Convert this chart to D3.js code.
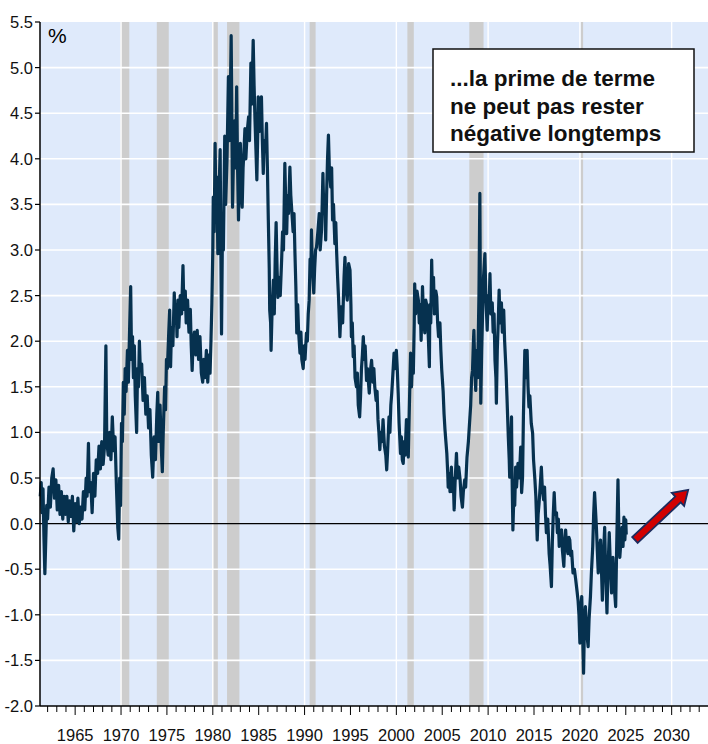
<!DOCTYPE html>
<html>
<head>
<meta charset="utf-8">
<script src="https://cdn.jsdelivr.net/npm/d3@7/dist/d3.min.js"></script>
<style>
  body { margin: 0; background: #fff; }
  svg text { font-family: "Liberation Sans Narrow", "Arial Narrow", "Liberation Sans", sans-serif; }
</style>
</head>
<body>
<svg width="708" height="744"></svg>
<script>
// prime de terme, %
const termPremium = [
  [1961.2,0.30],[1961.3,0.45],[1961.4,0.12],[1961.5,0.38],[1961.6,-0.15],[1961.7,-0.55],[1961.78,-0.25],[1961.9,0.20],
  [1962.0,0.05],[1962.15,0.40],[1962.3,0.18],[1962.45,0.50],[1962.6,0.60],[1962.75,0.28],[1962.9,0.48],
  [1963.05,0.15],[1963.2,0.42],[1963.35,0.10],[1963.5,0.35],[1963.65,0.05],[1963.8,0.30],[1963.95,0.10],
  [1964.1,0.30],[1964.25,0.02],[1964.4,0.25],[1964.55,0.08],[1964.7,0.30],[1964.85,-0.08],
  [1965.0,0.22],[1965.15,0.02],[1965.3,0.28],[1965.45,0.00],[1965.6,0.18],[1965.75,0.05],[1965.9,0.35],
  [1966.05,0.15],[1966.2,0.50],[1966.3,0.30],[1966.45,0.88],[1966.55,0.35],[1966.7,0.45],[1966.85,0.12],
  [1967.0,0.55],[1967.15,0.30],[1967.3,0.70],[1967.45,0.55],[1967.6,0.85],[1967.75,0.60],[1967.9,0.90],
  [1968.05,0.65],[1968.2,0.85],[1968.35,1.95],[1968.45,0.90],[1968.6,0.75],[1968.75,1.00],[1968.9,0.70],
  [1969.05,1.17],[1969.2,0.80],[1969.35,0.95],[1969.5,0.40],[1969.65,-0.05],[1969.75,-0.17],[1969.85,0.50],[1969.95,0.20],
  [1970.05,1.10],[1970.15,0.90],[1970.25,1.55],[1970.35,1.20],[1970.45,1.70],[1970.55,1.45],[1970.7,1.90],[1970.8,1.55],[1970.95,2.20],
  [1971.05,2.60],[1971.15,1.80],[1971.25,2.05],[1971.35,1.60],[1971.45,1.95],[1971.55,1.40],[1971.7,1.00],[1971.8,1.70],[1971.9,1.50],
  [1972.0,2.00],[1972.1,1.70],[1972.25,1.75],[1972.4,1.35],[1972.55,1.60],[1972.7,1.20],[1972.85,1.40],
  [1973.0,1.05],[1973.15,1.25],[1973.3,0.75],[1973.45,0.51],[1973.6,0.95],[1973.75,0.70],[1973.9,1.20],
  [1974.0,1.44],[1974.1,0.90],[1974.25,1.30],[1974.4,0.80],[1974.5,0.57],[1974.6,1.00],[1974.75,1.50],[1974.85,1.25],[1974.95,1.80],
  [1975.05,1.70],[1975.2,2.10],[1975.3,2.34],[1975.4,1.72],[1975.5,2.15],[1975.65,1.95],[1975.8,2.53],[1975.9,2.20],
  [1976.0,2.40],[1976.1,2.05],[1976.2,2.45],[1976.3,2.15],[1976.45,2.50],[1976.6,2.30],[1976.75,2.83],[1976.85,2.35],
  [1977.0,2.55],[1977.1,2.20],[1977.25,2.45],[1977.4,2.10],[1977.55,2.35],[1977.65,1.95],[1977.75,1.68],[1977.85,2.00],
  [1978.0,2.10],[1978.15,1.85],[1978.3,2.12],[1978.45,1.80],[1978.6,2.05],[1978.75,1.65],[1978.9,1.55],
  [1979.0,1.80],[1979.15,1.60],[1979.3,1.90],[1979.45,1.55],[1979.6,1.85],[1979.7,1.65],[1979.8,2.00],[1979.9,2.42],
  [1980.0,3.00],[1980.05,3.58],[1980.15,3.20],[1980.25,4.17],[1980.35,3.40],[1980.45,3.80],[1980.55,2.96],[1980.65,3.50],
  [1980.8,4.10],[1980.88,3.00],[1980.95,2.08],[1981.05,3.20],[1981.15,3.00],[1981.3,4.25],[1981.4,3.50],[1981.55,4.00],
  [1981.7,4.90],[1981.8,4.20],[1981.9,4.60],[1982.0,5.35],[1982.08,4.40],[1982.15,3.47],[1982.25,4.00],[1982.4,4.42],
  [1982.5,3.90],[1982.6,4.79],[1982.7,3.90],[1982.8,3.33],[1982.9,3.90],[1983.0,4.17],[1983.1,3.70],[1983.2,3.47],
  [1983.3,3.90],[1983.4,4.10],[1983.5,4.33],[1983.6,4.00],[1983.75,4.30],[1983.9,4.46],[1984.0,4.20],[1984.15,5.05],
  [1984.25,4.60],[1984.4,5.30],[1984.5,4.80],[1984.6,4.42],[1984.7,4.10],[1984.8,3.77],[1984.9,4.30],[1984.95,4.68],
  [1985.1,4.30],[1985.2,4.55],[1985.3,4.68],[1985.4,4.20],[1985.5,3.84],[1985.6,4.20],[1985.75,4.10],[1985.85,4.39],[1985.95,3.90],
  [1986.05,3.33],[1986.15,2.80],[1986.2,2.34],[1986.3,2.20],[1986.35,1.90],[1986.45,2.30],[1986.6,2.67],[1986.7,2.30],[1986.8,2.90],[1986.9,3.30],
  [1987.0,2.80],[1987.1,2.48],[1987.2,2.70],[1987.35,2.50],[1987.5,2.89],[1987.6,3.20],[1987.7,3.00],[1987.85,3.95],[1987.95,3.50],
  [1988.05,3.18],[1988.15,3.60],[1988.25,3.40],[1988.4,3.91],[1988.5,3.60],[1988.6,3.44],[1988.75,3.20],[1988.85,3.40],[1988.95,2.97],
  [1989.05,2.60],[1989.15,2.09],[1989.25,2.40],[1989.35,2.10],[1989.5,1.87],[1989.6,2.10],[1989.7,1.80],[1989.85,1.70],[1989.95,1.95],
  [1990.05,1.80],[1990.2,2.09],[1990.3,2.00],[1990.4,2.30],[1990.5,2.45],[1990.6,2.90],[1990.7,2.80],[1990.75,3.22],[1990.85,2.80],
  [1991.0,2.53],[1991.1,2.80],[1991.2,3.00],[1991.3,3.03],[1991.45,3.20],[1991.6,3.40],[1991.7,3.00],[1991.85,3.22],[1991.92,3.50],
  [1992.0,3.84],[1992.1,3.40],[1992.2,3.60],[1992.3,3.11],[1992.4,3.60],[1992.5,4.00],[1992.6,4.26],[1992.7,3.90],[1992.85,3.69],[1992.95,3.90],
  [1993.05,3.33],[1993.15,3.50],[1993.3,3.07],[1993.4,3.30],[1993.5,2.96],[1993.6,2.70],[1993.7,2.48],[1993.8,2.20],[1993.85,2.05],[1993.95,2.30],
  [1994.05,2.38],[1994.15,2.20],[1994.3,2.70],[1994.4,2.92],[1994.5,2.60],[1994.65,2.45],[1994.8,2.85],[1994.95,2.78],
  [1995.05,2.40],[1995.1,2.05],[1995.2,2.20],[1995.3,1.83],[1995.4,1.95],[1995.5,1.60],[1995.65,1.50],[1995.75,1.65],[1995.85,1.30],
  [1996.0,1.17],[1996.1,1.40],[1996.2,1.70],[1996.3,1.85],[1996.4,2.05],[1996.5,1.80],[1996.6,1.95],[1996.75,1.57],[1996.85,1.70],
  [1997.05,1.43],[1997.15,1.65],[1997.3,1.79],[1997.45,1.55],[1997.55,1.70],[1997.65,1.50],[1997.8,1.35],[1997.9,1.45],
  [1998.0,1.14],[1998.1,1.00],[1998.2,0.81],[1998.3,1.00],[1998.45,0.90],[1998.55,1.14],[1998.7,0.85],[1998.85,0.75],[1998.95,0.59],
  [1999.05,0.80],[1999.2,1.17],[1999.3,1.00],[1999.4,1.30],[1999.5,1.43],[1999.6,1.60],[1999.75,1.87],[1999.85,1.70],
  [2000.0,1.90],[2000.1,1.70],[2000.2,1.43],[2000.3,1.10],[2000.45,0.77],[2000.55,0.95],[2000.65,0.70],[2000.75,0.66],[2000.85,0.90],[2000.95,0.75],
  [2001.1,1.14],[2001.2,0.90],[2001.3,0.73],[2001.4,1.20],[2001.55,1.87],[2001.65,1.50],[2001.75,1.80],[2001.85,1.65],[2001.95,2.20],
  [2002.0,2.63],[2002.1,2.30],[2002.25,2.55],[2002.4,2.45],[2002.5,2.20],[2002.6,2.40],[2002.7,2.01],[2002.85,2.60],[2002.95,2.30],
  [2003.1,2.09],[2003.2,2.45],[2003.35,2.38],[2003.5,2.00],[2003.6,1.72],[2003.65,2.40],[2003.75,2.20],[2003.85,2.89],[2003.95,2.40],
  [2004.05,2.70],[2004.15,2.30],[2004.3,2.55],[2004.4,2.49],[2004.5,2.20],[2004.6,2.05],[2004.75,2.20],[2004.85,1.90],[2004.95,1.68],
  [2005.1,1.45],[2005.2,1.20],[2005.3,1.03],[2005.4,0.90],[2005.5,0.77],[2005.6,0.55],[2005.65,0.40],[2005.75,0.55],[2005.85,0.35],
  [2006.0,0.62],[2006.1,0.35],[2006.2,0.50],[2006.3,0.15],[2006.4,0.45],[2006.55,0.77],[2006.65,0.50],[2006.8,0.62],[2006.95,0.48],
  [2007.05,0.30],[2007.2,0.18],[2007.3,0.35],[2007.45,0.48],[2007.55,0.40],[2007.7,0.73],[2007.85,0.90],
  [2008.0,1.14],[2008.1,1.30],[2008.2,1.60],[2008.3,1.68],[2008.4,2.00],[2008.45,2.12],[2008.55,1.70],[2008.65,1.46],[2008.75,1.90],[2008.85,1.60],[2008.9,1.87],
  [2009.0,2.50],[2009.1,3.62],[2009.15,2.60],[2009.2,1.32],[2009.3,1.90],[2009.4,2.31],[2009.5,2.70],[2009.65,2.96],[2009.75,2.50],[2009.9,2.12],
  [2010.0,2.50],[2010.1,2.35],[2010.2,2.74],[2010.3,2.30],[2010.45,2.42],[2010.55,2.10],[2010.65,2.30],[2010.75,1.79],[2010.85,1.60],[2010.9,1.32],
  [2011.0,1.90],[2011.1,2.20],[2011.2,2.56],[2011.3,2.20],[2011.45,2.42],[2011.55,2.10],[2011.7,2.34],[2011.8,2.00],[2011.95,1.68],
  [2012.05,1.40],[2012.2,0.95],[2012.3,0.70],[2012.35,0.51],[2012.45,0.80],[2012.55,1.17],[2012.6,0.60],[2012.7,-0.07],[2012.8,0.30],[2012.9,0.20],
  [2013.0,0.62],[2013.1,0.40],[2013.25,0.66],[2013.4,0.50],[2013.55,0.84],[2013.65,0.34],[2013.75,0.50],[2013.85,1.20],
  [2014.0,1.90],[2014.1,1.60],[2014.25,1.90],[2014.35,1.50],[2014.45,1.28],[2014.55,1.40],[2014.7,1.10],[2014.85,0.99],[2014.95,0.70],
  [2015.1,0.48],[2015.2,0.30],[2015.35,-0.18],[2015.45,0.10],[2015.55,0.22],[2015.7,0.45],[2015.8,0.62],[2015.9,0.40],
  [2016.05,0.26],[2016.15,0.40],[2016.25,0.10],[2016.35,-0.10],[2016.5,0.05],[2016.65,-0.33],[2016.75,-0.45],[2016.9,-0.69],
  [2017.0,-0.20],[2017.1,0.10],[2017.2,0.34],[2017.3,0.10],[2017.45,0.12],[2017.55,-0.10],[2017.65,0.05],[2017.75,-0.25],[2017.85,-0.10],
  [2018.0,-0.07],[2018.1,-0.30],[2018.25,-0.47],[2018.35,-0.20],[2018.45,-0.07],[2018.55,-0.25],[2018.7,-0.33],[2018.8,-0.15],[2018.9,-0.18],
  [2019.0,-0.35],[2019.1,-0.30],[2019.25,-0.54],[2019.4,-0.50],[2019.55,-0.62],[2019.7,-0.75],[2019.8,-0.84],[2019.9,-1.00],
  [2020.0,-1.31],[2020.1,-0.95],[2020.2,-0.80],[2020.3,-1.20],[2020.4,-1.64],[2020.5,-1.10],[2020.6,-0.91],[2020.75,-1.20],[2020.9,-1.35],
  [2021.0,-1.05],[2021.15,-0.80],[2021.25,-0.55],[2021.4,-0.25],[2021.5,0.10],[2021.6,0.34],[2021.7,0.15],[2021.8,-0.04],[2021.9,-0.30],
  [2022.0,-0.54],[2022.1,-0.30],[2022.25,-0.18],[2022.35,-0.50],[2022.45,-0.84],[2022.55,-0.40],[2022.7,-0.04],[2022.8,-0.50],[2022.95,-0.98],
  [2023.05,-0.55],[2023.2,-0.10],[2023.3,-0.40],[2023.45,-0.76],[2023.55,-0.45],[2023.6,-0.37],[2023.75,-0.70],[2023.9,-0.91],
  [2024.0,-0.30],[2024.15,0.48],[2024.25,-0.10],[2024.35,-0.37],[2024.5,-0.15],[2024.6,-0.04],[2024.7,-0.25],[2024.8,0.07],[2024.9,-0.18],
  [2025.0,0.04],[2025.05,-0.12]
];

// récessions (début, fin)
const recessions = [
  [1969.95, 1970.9], [1973.9, 1975.2], [1980.0, 1980.55], [1981.55, 1982.9],
  [1990.55, 1991.2], [2001.2, 2001.9], [2007.95, 2009.5], [2020.1, 2020.35]
];

const yTicks = [-2.0, -1.5, -1.0, -0.5, 0.0, 0.5, 1.0, 1.5, 2.0, 2.5, 3.0, 3.5, 4.0, 4.5, 5.0, 5.5];
const xLabelYears = [1965, 1970, 1975, 1980, 1985, 1990, 1995, 2000, 2005, 2010, 2015, 2020, 2025, 2030];
const xGridYears = [1970, 1980, 1990, 2000, 2010, 2020, 2030];
const arrowFrom = [2026.0, -0.18];
const arrowTo = [2031.8, 0.37];
const noteLines = ["...la prime de terme", "ne peut pas rester", "négative longtemps"];

const svg = d3.select("svg");
const plotL = 40, plotR = 708, plotT = 22, plotB = 706;

const x = d3.scaleLinear().domain([1961.17, 2033.96]).range([plotL, plotR]);
const y = d3.scaleLinear().domain([-2, 5.5]).range([plotB, plotT]);

// fond
svg.append("rect")
  .attr("x", plotL).attr("y", plotT)
  .attr("width", plotR - plotL).attr("height", plotB - plotT)
  .attr("fill", "#dfeafb");

// bandes grises
svg.append("g").selectAll("rect")
  .data(recessions)
  .join("rect")
  .attr("x", d => x(d[0]))
  .attr("y", plotT)
  .attr("width", d => x(d[1]) - x(d[0]))
  .attr("height", plotB - plotT)
  .attr("fill", "#cdcdcd");

// grille
svg.append("g").selectAll("line")
  .data(yTicks.filter(v => v != 0 && v > -2 && v < 5.5))
  .join("line")
  .attr("x1", plotL).attr("x2", plotR)
  .attr("y1", d => y(d)).attr("y2", d => y(d))
  .attr("stroke", "#fff").attr("stroke-width", 1.6);

svg.append("g").selectAll("line")
  .data(xGridYears)
  .join("line")
  .attr("x1", d => x(d)).attr("x2", d => x(d))
  .attr("y1", plotT).attr("y2", plotB)
  .attr("stroke", "#fff").attr("stroke-width", 1.4);

// ligne zéro
svg.append("line")
  .attr("x1", plotL).attr("x2", plotR)
  .attr("y1", y(0)).attr("y2", y(0))
  .attr("stroke", "#000").attr("stroke-width", 1.2);

// série
const line = d3.line().x(d => x(d[0])).y(d => y(d[1]));
svg.append("path")
  .datum(termPremium)
  .attr("d", line)
  .attr("fill", "none")
  .attr("stroke", "#06314f")
  .attr("stroke-width", 3.2)
  .attr("stroke-linejoin", "round");

// flèche
{
  const x0 = x(arrowFrom[0]), y0 = y(arrowFrom[1]);
  const x1 = x(arrowTo[0]), y1 = y(arrowTo[1]);
  const dx = x1 - x0, dy = y1 - y0, len = Math.hypot(dx, dy);
  const ux = dx / len, uy = dy / len, px = -uy, py = ux;
  const sw = 4, hw = 9, hl = 14;
  const bx = x1 - ux * hl, by = y1 - uy * hl;
  const pts = [
    [x0 + px * sw, y0 + py * sw], [bx + px * sw, by + py * sw], [bx + px * hw, by + py * hw],
    [x1, y1],
    [bx - px * hw, by - py * hw], [bx - px * sw, by - py * sw], [x0 - px * sw, y0 - py * sw]
  ];
  svg.append("polygon")
    .attr("points", pts.map(p => p.join(",")).join(" "))
    .attr("fill", "#d10000")
    .attr("stroke", "#1d2c5e")
    .attr("stroke-width", 1.8)
    .attr("stroke-linejoin", "miter");
}

// axes
const yAxis = svg.append("g");
yAxis.append("line")
  .attr("x1", plotL).attr("x2", plotL).attr("y1", plotT).attr("y2", plotB)
  .attr("stroke", "#000").attr("stroke-width", 1.5);
yAxis.selectAll("line.tick")
  .data(yTicks)
  .join("line").attr("class", "tick")
  .attr("x1", plotL - 5).attr("x2", plotL)
  .attr("y1", d => y(d)).attr("y2", d => y(d))
  .attr("stroke", "#000").attr("stroke-width", 1.2);
yAxis.selectAll("text")
  .data(yTicks)
  .join("text")
  .attr("x", 33).attr("y", d => y(d))
  .attr("dy", "0.36em")
  .attr("text-anchor", "end")
  .attr("font-size", 16.5)
  .attr("fill", "#111")
  .text(d => d.toFixed(1));

const xAxis = svg.append("g");
xAxis.append("line")
  .attr("x1", plotL).attr("x2", plotR).attr("y1", plotB).attr("y2", plotB)
  .attr("stroke", "#000").attr("stroke-width", 1.5);
xAxis.selectAll("line.tick")
  .data(d3.range(1962, 2034))
  .join("line").attr("class", "tick")
  .attr("x1", d => x(d)).attr("x2", d => x(d))
  .attr("y1", plotB).attr("y2", d => plotB + (d % 5 == 0 ? 9 : 6))
  .attr("stroke", "#000").attr("stroke-width", 1);
xAxis.selectAll("text")
  .data(xLabelYears)
  .join("text")
  .attr("x", d => x(d)).attr("y", 741)
  .attr("text-anchor", "middle")
  .attr("font-size", 16.5)
  .attr("fill", "#111")
  .text(d => d);

// unité
svg.append("text")
  .attr("x", 48).attr("y", 43)
  .attr("font-family", "Liberation Sans, Arial, sans-serif")
  .attr("font-size", 21)
  .text("%");

// encadré
svg.append("rect")
  .attr("x", 433).attr("y", 49).attr("width", 261).attr("height", 103)
  .attr("fill", "#fff").attr("stroke", "#111").attr("stroke-width", 1.5);
svg.append("g").selectAll("text")
  .data(noteLines)
  .join("text")
  .attr("x", 450).attr("y", (d, i) => 86 + i * 27.5)
  .attr("font-family", "Liberation Sans, Arial, sans-serif")
  .attr("font-weight", "bold")
  .attr("font-size", 22.5)
  .attr("fill", "#111")
  .text(d => d);
</script>
</body>
</html>
